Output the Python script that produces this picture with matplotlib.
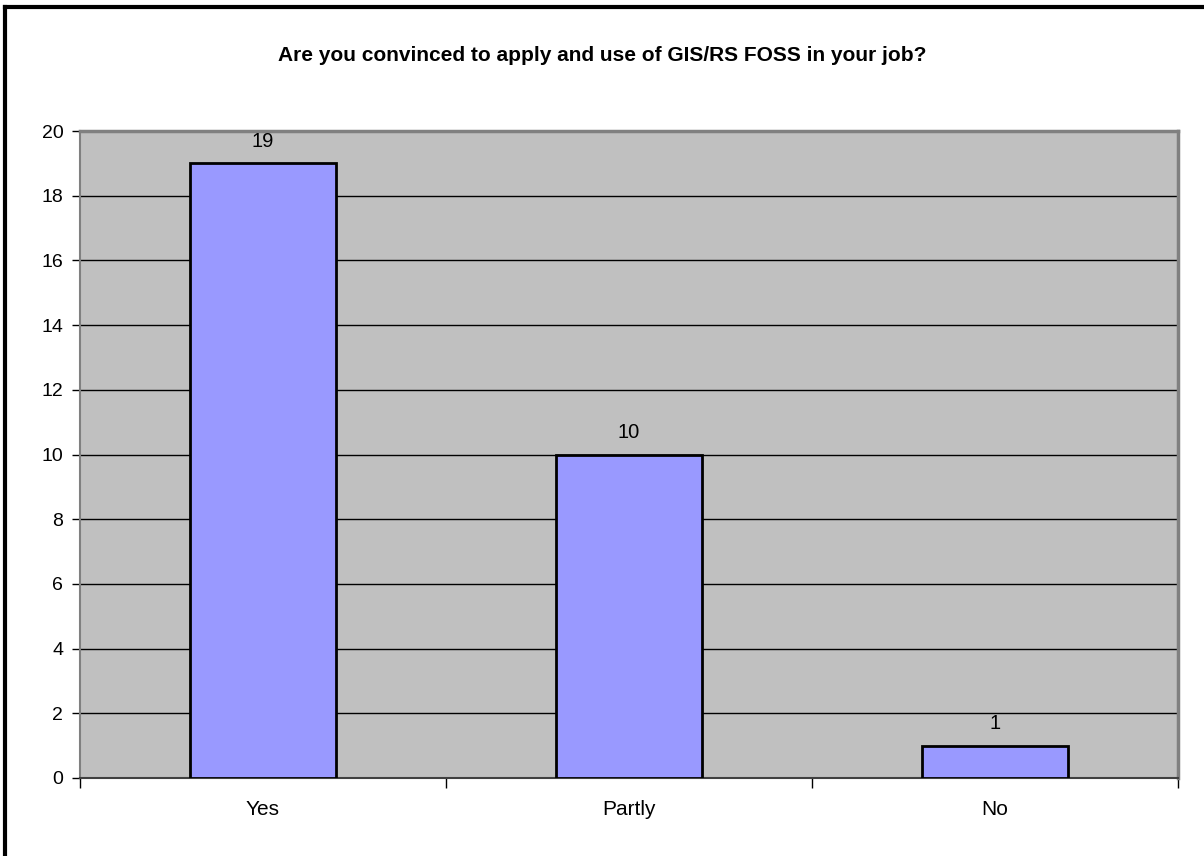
import matplotlib
matplotlib.use("Agg")
import matplotlib.pyplot as plt
from matplotlib.lines import Line2D

categories = ["Yes", "Partly", "No"]
values = [19, 10, 1]
yticks = [0, 2, 4, 6, 8, 10, 12, 14, 16, 18, 20]
title = "Are you convinced to apply and use of GIS/RS FOSS in your job?"

plt.rcParams['font.family'] = ['Liberation Sans', 'DejaVu Sans']

fig = plt.figure(figsize=(12.04, 8.56), dpi=100)
ax = fig.add_axes([80/1204, 78/856, 1098/1204, 647/856])
ax.set_facecolor('#C0C0C0')

x = list(range(len(categories)))
bars = ax.bar(x, values, width=0.4, color='#9999FF', edgecolor='black', linewidth=2, zorder=3)
for xi, v in zip(x, values):
    ax.annotate(str(v), (xi, v), xytext=(0, 12), textcoords='offset points',
                ha='center', va='baseline', fontsize=14.5, zorder=4)

ax.set_xlim(-0.5, len(categories) - 0.5)
ax.set_ylim(0, 20)
ax.set_yticks(yticks)
ax.set_yticklabels([str(t) for t in yticks], fontsize=14)
ax.yaxis.grid(True, color='black', linewidth=1, zorder=1)
ax.set_axisbelow(True)

ax.set_xticks(x)
ax.set_xticklabels(categories, fontsize=15)
ax.tick_params(axis='x', length=0, pad=16)
ax.set_xticks([i - 0.5 for i in range(len(categories) + 1)], minor=True)
ax.tick_params(axis='x', which='minor', length=7, width=1, color='black', direction='out')
ax.tick_params(axis='y', length=6, width=1, color='black', direction='out', pad=6)

for s in ['top', 'right']:
    ax.spines[s].set_color('#808080')
    ax.spines[s].set_linewidth(2.5)
ax.spines['left'].set_color('#808080')
ax.spines['left'].set_linewidth(1.5)
ax.spines['bottom'].set_color('#404040')
ax.spines['bottom'].set_linewidth(1.5)

fig.text(0.5, 1 - 61/856, title, ha='center', va='baseline', fontsize=15, fontweight='bold')

# figure frame (left and top edges visible)
fig.add_artist(Line2D([5/1204, 5/1204], [0, 1 - 7/856], transform=fig.transFigure, color='black', linewidth=3))
fig.add_artist(Line2D([5/1204, 1.0], [1 - 7/856, 1 - 7/856], transform=fig.transFigure, color='black', linewidth=3))

fig.savefig("out.png", dpi=100)
